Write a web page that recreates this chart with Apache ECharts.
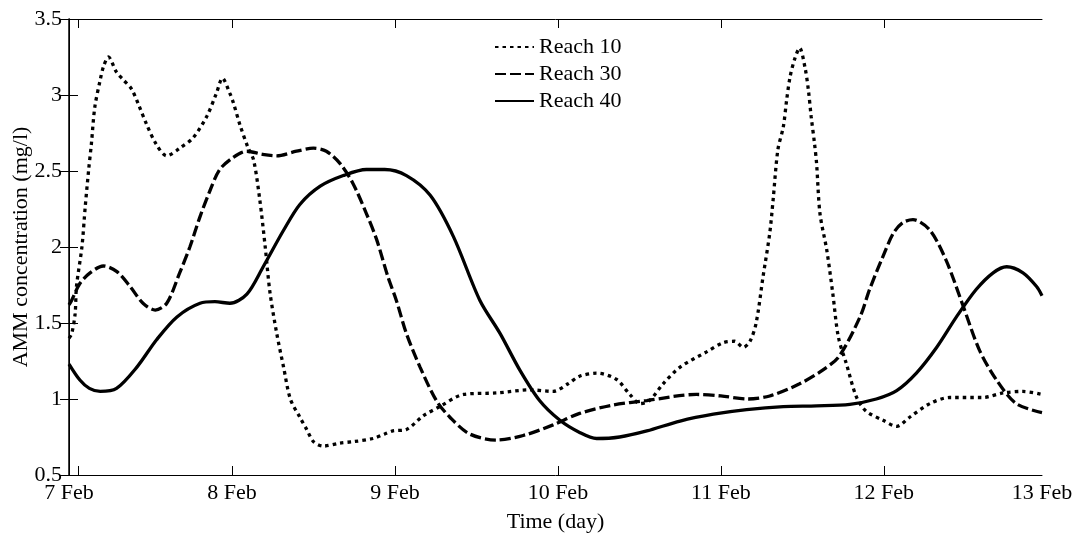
<!DOCTYPE html>
<html><head><meta charset="utf-8">
<script src="https://cdn.jsdelivr.net/npm/echarts@6/dist/echarts.min.js"></script>
<style>html,body{margin:0;padding:0;background:#fff}#c{width:1077px;height:536px}</style>
</head><body><div id="c"></div>
<script>
// time in hours after 7 Feb 00:00, value in mg/l
const seriesNames = ['Reach 10', 'Reach 30', 'Reach 40'];
const reach10 = [[0.0,1.40],[0.4,1.43],[0.9,1.56],[1.1,1.74],[1.9,2.0],[2.4,2.27],[2.9,2.51],[3.3,2.68],[3.8,2.92],[4.6,3.10],[5.1,3.19],[5.8,3.25],[7.0,3.15],[8.0,3.10],[9.2,3.04],[10.3,2.93],[11.4,2.81],[12.8,2.68],[14.4,2.60],[16.3,2.65],[18.3,2.72],[20.3,2.86],[21.7,3.01],[22.6,3.11],[23.7,3.01],[24.2,2.95],[25.2,2.80],[26.4,2.65],[27.2,2.57],[28.1,2.31],[28.9,2.0],[29.6,1.70],[30.6,1.43],[31.6,1.21],[32.6,1.0],[34.0,0.88],[35.0,0.80],[36.0,0.72],[37.4,0.69],[39.9,0.71],[42.0,0.72],[44.8,0.74],[46.5,0.77],[47.7,0.79],[49.7,0.80],[52.2,0.89],[54.6,0.95],[58.1,1.03],[63.0,1.04],[67.9,1.06],[71.3,1.05],[73.5,1.10],[75.2,1.15],[77.7,1.17],[80.6,1.13],[82.6,1.03],[84.1,0.97],[85.5,0.99],[87.5,1.10],[90.0,1.21],[93.9,1.31],[96.3,1.37],[98.0,1.38],[99.3,1.34],[100.3,1.38],[101.2,1.50],[102.2,1.80],[103.2,2.09],[103.7,2.31],[104.4,2.64],[105.2,2.79],[105.7,2.97],[106.2,3.12],[106.9,3.24],[107.6,3.31],[108.4,3.18],[108.9,3.03],[109.3,2.86],[109.8,2.68],[110.1,2.55],[110.6,2.22],[111.6,1.98],[112.5,1.69],[113.3,1.41],[114.5,1.23],[116.0,1.01],[117.4,0.92],[119.9,0.86],[121.9,0.82],[123.8,0.88],[126.8,0.97],[129.7,1.01],[134.6,1.01],[137.6,1.04],[140.5,1.05],[143.3,1.03]];
const reach30 = [[0.0,1.62],[0.4,1.65],[1.6,1.76],[3.1,1.83],[5.05,1.875],[7.0,1.84],[9.0,1.74],[10.9,1.63],[12.7,1.585],[14.4,1.63],[16.3,1.83],[17.8,2.0],[19.3,2.20],[20.8,2.375],[22.2,2.51],[24.2,2.59],[26.2,2.63],[28.5,2.61],[30.6,2.60],[33.5,2.63],[36.0,2.65],[37.9,2.63],[39.9,2.55],[41.8,2.42],[43.8,2.22],[45.3,2.05],[47.0,1.80],[48.2,1.65],[49.7,1.43],[51.7,1.21],[54.1,0.99],[56.1,0.88],[59.0,0.77],[63.0,0.73],[66.9,0.76],[71.3,0.83],[75.2,0.905],[80.1,0.96],[85.1,0.99],[92.4,1.03],[96.0,1.02],[100.0,1.00],[103.2,1.02],[107.6,1.10],[111.0,1.19],[113.4,1.28],[116.5,1.54],[117.9,1.72],[119.9,1.94],[121.4,2.09],[122.8,2.16],[124.3,2.18],[126.8,2.11],[129.2,1.91],[131.7,1.61],[134.1,1.32],[136.6,1.125],[139.5,0.97],[143.3,0.91]];
const reach40 = [[0.0,1.23],[1.6,1.125],[3.0,1.07],[4.6,1.05],[7.0,1.07],[10.0,1.21],[12.9,1.39],[15.9,1.54],[19.3,1.63],[21.5,1.64],[23.7,1.63],[26.2,1.69],[28.6,1.87],[31.6,2.11],[34.0,2.28],[37.0,2.40],[40.4,2.47],[43.8,2.51],[46.5,2.51],[49.7,2.47],[53.2,2.34],[56.6,2.07],[60.5,1.65],[63.5,1.43],[66.4,1.19],[69.3,0.99],[72.3,0.86],[75.2,0.78],[77.7,0.74],[81.1,0.75],[85.1,0.79],[90.0,0.855],[94.9,0.90],[99.8,0.93],[105.2,0.95],[110.1,0.955],[115.0,0.965],[118.9,1.0],[121.9,1.055],[124.8,1.17],[127.8,1.34],[130.7,1.54],[133.6,1.72],[136.1,1.83],[138.1,1.87],[140.5,1.83],[142.5,1.74],[143.3,1.68]];
const xLabelHours = [0, 24, 48, 72, 96, 120, 143.3];
const xTickHours = [1.4, 24, 48, 72, 96, 120];
const xTickLabels = ['7 Feb', '8 Feb', '9 Feb', '10 Feb', '11 Feb', '12 Feb', '13 Feb'];
const yMin = 0.5, yMax = 3.5, yStep = 0.5;
const xMin = 0, xMax = 143.3;

const FONT = 'Liberation Serif';
const FS = 22;
const chart = echarts.init(document.getElementById('c'), null, {renderer: 'canvas'});
const axisLine = {show: true, lineStyle: {color: '#000', width: 1}};
const tick = {show: true, inside: true, length: 9, lineStyle: {color: '#000', width: 1}};
const lineTypes = [[3.5, 4], [11, 4], 'solid'];
const datas = [reach10, reach30, reach40];

chart.setOption({
  animation: false,
  backgroundColor: '#fff',
  textStyle: {fontFamily: FONT},
  grid: {left: 69, right: 35, top: 19, bottom: 61, containLabel: false, outerBoundsMode: 'none'},
  legend: {
    orient: 'vertical', left: 489, top: 31,
    itemWidth: 39, itemHeight: 14, itemGap: 5,
    itemStyle: {opacity: 0},
    textStyle: {fontFamily: FONT, fontSize: FS, lineHeight: 22, color: '#000'},
    data: seriesNames
  },
  xAxis: [{
    type: 'value', min: xMin, max: xMax, position: 'bottom',
    name: 'Time (day)', nameLocation: 'middle', nameGap: 36, nameMoveOverlap: false,
    nameTextStyle: {fontFamily: FONT, fontSize: FS, color: '#000'},
    axisLine: axisLine,
    axisTick: Object.assign({}, tick, {customValues: xTickHours}),
    axisLabel: {customValues: xLabelHours, margin: 7, fontFamily: FONT, fontSize: FS, color: '#000',
      formatter: v => { const i = xLabelHours.indexOf(v); return i >= 0 ? xTickLabels[i] : ''; }},
    splitLine: {show: false}
  }, {
    type: 'value', min: xMin, max: xMax, position: 'top',
    axisLine: axisLine,
    axisTick: Object.assign({}, tick, {customValues: xTickHours}),
    axisLabel: {show: false}, splitLine: {show: false}
  }],
  yAxis: [{
    type: 'value', min: yMin, max: yMax, interval: yStep, position: 'left',
    name: 'AMM concentration (mg/l)', nameLocation: 'middle', nameGap: 37, nameMoveOverlap: false,
    nameTextStyle: {fontFamily: FONT, fontSize: FS, color: '#000'},
    axisLine: axisLine, axisTick: tick,
    axisLabel: {margin: 7, fontFamily: FONT, fontSize: FS, color: '#000'},
    splitLine: {show: false}
  }, {
    type: 'value', min: yMin, max: yMax, interval: yStep, position: 'right',
    axisLine: {show: true, lineStyle: {color: '#000', width: 1.5}}, axisTick: tick,
    axisLabel: {show: false}, splitLine: {show: false}
  }],
  series: seriesNames.map((n, i) => ({
    name: n, type: 'line', data: datas[i],
    xAxisIndex: 0, yAxisIndex: 0,
    smooth: 0.3, showSymbol: false, symbol: 'none',
    lineStyle: {color: '#000', width: 3.3, type: lineTypes[i], cap: 'butt'},
    itemStyle: {color: '#000'}
  }))
});
</script></body></html>
